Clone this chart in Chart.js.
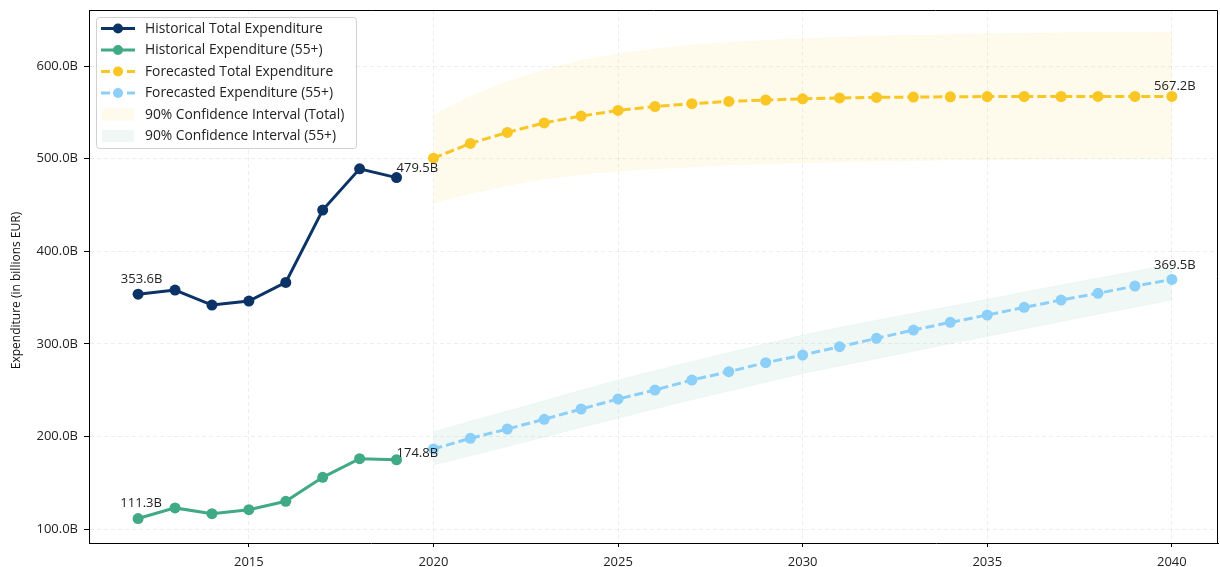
<!DOCTYPE html>
<html>
<head>
<meta charset="utf-8">
<title>Expenditure: history and forecast</title>
<script src="https://cdn.jsdelivr.net/npm/chart.js@4.4.1/dist/chart.umd.min.js"></script>
<style>
  html, body { margin: 0; padding: 0; background: #ffffff; overflow: hidden; }
  #wrap { width: 1220px; height: 567px; position: relative; }
  canvas { display: block; }
</style>
</head>
<body>
<div id="wrap"><canvas id="chart" width="1220" height="567"></canvas></div>
<script>
// ---- data (billions EUR) ----
const histYears = [2012, 2013, 2014, 2015, 2016, 2017, 2018, 2019];
const histTotal = [353.6, 358.1, 341.9, 346.2, 366.3, 444.4, 489.0, 479.5];
const hist55 = [111.3, 122.8, 116.6, 120.9, 129.9, 155.8, 176.0, 174.8];

const forecastYears = [2020, 2021, 2022, 2023, 2024, 2025, 2026, 2027, 2028, 2029, 2030,
                       2031, 2032, 2033, 2034, 2035, 2036, 2037, 2038, 2039, 2040];
const forecastTotal = [500.5, 516.4, 528.3, 538.6, 546.0, 552.0, 556.3, 559.3, 561.8, 563.3, 564.6,
                       565.5, 566.1, 566.5, 566.8, 567.0, 567.1, 567.1, 567.2, 567.2, 567.2];
const forecast55 = [186.5, 197.9, 208.0, 218.5, 229.6, 240.4, 250.1, 260.9, 269.9, 279.6, 287.9,
                    296.9, 305.9, 314.9, 323.2, 331.1, 339.4, 347.3, 354.5, 362.4, 369.5];

const ciTotalUpper = [547.0, 567.0, 583.0, 596.0, 606.0, 613.0, 618.5, 622.5, 625.5, 627.8, 629.5,
                      631.0, 632.3, 633.3, 634.1, 634.8, 635.3, 635.8, 636.2, 636.5, 636.8];
const ciTotalLower = [452.0, 462.0, 471.0, 478.0, 483.0, 486.5, 489.0, 491.0, 493.0, 494.5, 495.6,
                      496.5, 497.3, 498.0, 498.5, 499.0, 499.4, 499.7, 500.0, 500.2, 500.3];
const ci55Upper = [205.0, 216.5, 227.5, 238.5, 250.0, 261.0, 271.0, 281.0, 290.5, 300.0, 309.5,
                   317.5, 325.5, 333.0, 340.5, 348.0, 356.0, 363.5, 371.0, 378.5, 386.0];
const ci55Lower = [169.0, 179.0, 189.0, 199.5, 209.5, 219.5, 229.5, 239.5, 249.0, 258.5, 268.0,
                   276.0, 284.0, 292.0, 300.0, 308.0, 316.0, 324.0, 332.0, 339.5, 347.5];

const xTickValues = [2015, 2020, 2025, 2030, 2035, 2040];
const yTickValues = [100, 200, 300, 400, 500, 600];

// ---- styling ----
const FONT = '"Open Sans", Lato, "DejaVu Sans", sans-serif';
const FONT_SIZE = 13.8;
const TICK_SIZE = 13;
const C_HIST_TOTAL = '#0b3366';
const C_HIST_55 = '#40a986';
const C_FC_TOTAL = '#f9c623';
const C_FC_55 = '#8ccff8';
const C_BAND_TOTAL = 'rgba(249, 198, 35, 0.085)';
const C_BAND_55 = 'rgba(64, 169, 134, 0.085)';
const DASH = [9, 4];

const toPoints = (xs, ys) => xs.map((x, i) => ({ x, y: ys[i] }));
const fmtB = v => v.toFixed(1) + 'B';

const legendItems = [
  { text: 'Historical Total Expenditure', kind: 'line', color: C_HIST_TOTAL, dash: [] },
  { text: 'Historical Expenditure (55+)', kind: 'line', color: C_HIST_55, dash: [] },
  { text: 'Forecasted Total Expenditure', kind: 'line', color: C_FC_TOTAL, dash: DASH },
  { text: 'Forecasted Expenditure (55+)', kind: 'line', color: C_FC_55, dash: DASH },
  { text: '90% Confidence Interval (Total)', kind: 'patch', color: C_BAND_TOTAL },
  { text: '90% Confidence Interval (55+)', kind: 'patch', color: C_BAND_55 }
];

// value labels next to chosen points
const valueLabels = [
  { xs: histYears, ys: histTotal, idx: 0, align: 'center', dx: 3.5, dy: -11 },
  { xs: histYears, ys: histTotal, idx: histYears.length - 1, align: 'left', dx: 0, dy: -6 },
  { xs: histYears, ys: hist55, idx: 0, align: 'center', dx: 3, dy: -12 },
  { xs: histYears, ys: hist55, idx: histYears.length - 1, align: 'left', dx: 0, dy: -3 },
  { xs: forecastYears, ys: forecastTotal, idx: forecastYears.length - 1, align: 'center', dx: 3, dy: -6 },
  { xs: forecastYears, ys: forecast55, idx: forecastYears.length - 1, align: 'center', dx: 3, dy: -10.5 }
];

const extrasPlugin = {
  id: 'extras',
  afterDraw(chart) {
    const { ctx, chartArea: a, scales: { x, y } } = chart;
    ctx.save();

    // top and right frame lines
    ctx.strokeStyle = '#000';
    ctx.lineWidth = 1;
    ctx.beginPath();
    ctx.moveTo(a.left, a.top + 0.5);
    ctx.lineTo(a.right - 0.5, a.top + 0.5);
    ctx.lineTo(a.right - 0.5, a.bottom);
    ctx.stroke();

    // value labels
    ctx.fillStyle = '#222';
    ctx.font = TICK_SIZE + 'px ' + FONT;
    ctx.textBaseline = 'alphabetic';
    valueLabels.forEach(l => {
      const px = x.getPixelForValue(l.xs[l.idx]);
      const py = y.getPixelForValue(l.ys[l.idx]);
      ctx.textAlign = l.align;
      ctx.fillText(fmtB(l.ys[l.idx]), px + l.dx, py + l.dy);
    });

    // y axis title
    ctx.save();
    ctx.translate(17, (a.top + a.bottom) / 2 + 14);
    ctx.rotate(-Math.PI / 2);
    ctx.textAlign = 'center';
    ctx.textBaseline = 'middle';
    ctx.fillStyle = '#111';
    ctx.font = '12px ' + FONT;
    ctx.fillText('Expenditure (in billions EUR)', 0, 0);
    ctx.restore();

    // legend
    const bx = a.left + 7, by = a.top + 7, bw = 260, bh = 131, rowH = 21.5;
    ctx.beginPath();
    ctx.roundRect(bx + 0.5, by + 0.5, bw, bh, 3);
    ctx.fillStyle = 'rgba(255,255,255,0.85)';
    ctx.fill();
    ctx.strokeStyle = '#d0d0d0';
    ctx.lineWidth = 1;
    ctx.stroke();
    legendItems.forEach((it, i) => {
      const cy = by + 11.5 + i * rowH;
      const hx0 = bx + 5, hx1 = bx + 39;
      if (it.kind === 'line') {
        ctx.save();
        ctx.strokeStyle = it.color;
        ctx.lineWidth = 3;
        ctx.setLineDash(it.dash);
        ctx.beginPath();
        ctx.moveTo(hx0, cy);
        ctx.lineTo(hx1, cy);
        ctx.stroke();
        ctx.setLineDash([]);
        ctx.fillStyle = it.color;
        ctx.beginPath();
        ctx.arc((hx0 + hx1) / 2, cy, 5, 0, Math.PI * 2);
        ctx.fill();
        ctx.restore();
      } else {
        ctx.fillStyle = it.color;
        ctx.fillRect(hx0 + 1, cy - 6, 32, 12);
      }
      ctx.fillStyle = '#222';
      ctx.textAlign = 'left';
      ctx.textBaseline = 'middle';
      ctx.font = FONT_SIZE + 'px ' + FONT;
      ctx.fillText(it.text, bx + 49, cy + 0.5);
    });

    ctx.restore();
  }
};

const lineDs = (label, xs, ys, color, dash, order) => ({
  label,
  data: toPoints(xs, ys),
  borderColor: color,
  backgroundColor: color,
  borderWidth: 3,
  borderDash: dash,
  pointRadius: 5.5,
  pointBorderWidth: 0,
  pointBackgroundColor: color,
  fill: false,
  tension: 0,
  order
});

const bandDs = (label, xs, ys, color, fill, order) => ({
  label,
  data: toPoints(xs, ys),
  borderColor: color,
  borderWidth: 0.5,
  backgroundColor: color,
  pointRadius: 0,
  fill,
  tension: 0,
  order
});

new Chart(document.getElementById('chart'), {
  type: 'line',
  data: {
    datasets: [
      bandDs('90% Confidence Interval (Total)', forecastYears, ciTotalUpper, C_BAND_TOTAL, '+1', 10),
      bandDs('ci-total-low', forecastYears, ciTotalLower, C_BAND_TOTAL, false, 11),
      bandDs('90% Confidence Interval (55+)', forecastYears, ci55Upper, C_BAND_55, '+1', 12),
      bandDs('ci-55-low', forecastYears, ci55Lower, C_BAND_55, false, 13),
      lineDs('Historical Total Expenditure', histYears, histTotal, C_HIST_TOTAL, [], 1),
      lineDs('Historical Expenditure (55+)', histYears, hist55, C_HIST_55, [], 2),
      lineDs('Forecasted Total Expenditure', forecastYears, forecastTotal, C_FC_TOTAL, DASH, 3),
      lineDs('Forecasted Expenditure (55+)', forecastYears, forecast55, C_FC_55, DASH, 4)
    ]
  },
  options: {
    responsive: false,
    animation: false,
    events: [],
    layout: { autoPadding: false, padding: { top: 10, right: 2, left: 0, bottom: 0 } },
    plugins: {
      legend: { display: false },
      tooltip: { enabled: false },
      filler: { propagate: false }
    },
    scales: {
      x: {
        type: 'linear',
        min: 2010.67,
        max: 2041.25,
        afterBuildTicks: s => { s.ticks = xTickValues.map(v => ({ value: v })); },
        afterFit: s => { s.height = 24; s.paddingLeft = 0; s.paddingRight = 0; },
        ticks: {
          autoSkip: false,
          maxRotation: 0,
          padding: 7,
          color: '#222',
          font: { family: FONT, size: TICK_SIZE },
          callback: v => String(v)
        },
        grid: {
          color: 'rgba(0,0,0,0.065)',
          lineWidth: 1,
          tickLength: 4,
          tickColor: '#000',
          tickWidth: 1
        },
        border: { display: true, color: '#000', width: 1, dash: [4, 3] }
      },
      y: {
        type: 'linear',
        min: 84.9,
        max: 660.5,
        afterBuildTicks: s => { s.ticks = yTickValues.map(v => ({ value: v })); },
        afterFit: s => { s.width = 89; s.paddingTop = 0; s.paddingBottom = 0; },
        ticks: {
          padding: 6,
          color: '#222',
          font: { family: FONT, size: TICK_SIZE },
          callback: v => fmtB(v)
        },
        grid: {
          color: 'rgba(0,0,0,0.065)',
          lineWidth: 1,
          tickLength: 5,
          tickColor: '#000',
          tickWidth: 1
        },
        border: { display: true, color: '#000', width: 1, dash: [4, 3] }
      }
    }
  },
  plugins: [extrasPlugin]
});
</script>
</body>
</html>
